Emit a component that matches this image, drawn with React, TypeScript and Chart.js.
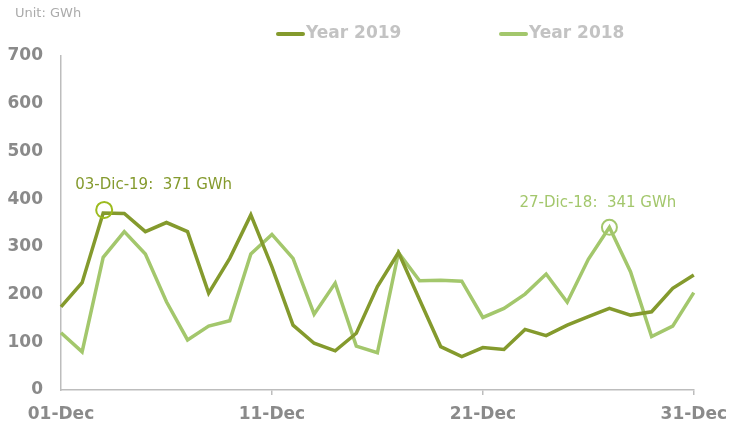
import { useEffect, useRef } from 'react';
import { Chart, registerables } from 'chart.js';

Chart.register(...registerables);

const categories = [
  '01-Dec', '02-Dec', '03-Dec', '04-Dec', '05-Dec', '06-Dec', '07-Dec', '08-Dec', '09-Dec', '10-Dec',
  '11-Dec', '12-Dec', '13-Dec', '14-Dec', '15-Dec', '16-Dec', '17-Dec', '18-Dec', '19-Dec', '20-Dec',
  '21-Dec', '22-Dec', '23-Dec', '24-Dec', '25-Dec', '26-Dec', '27-Dec', '28-Dec', '29-Dec', '30-Dec',
  '31-Dec',
];
const xTickLabels = ['01-Dec', '11-Dec', '21-Dec', '31-Dec'];

const year2019 = [174, 225, 371, 370, 332, 351, 332, 203, 276, 367, 258, 136, 98, 82, 119, 217, 288, 189, 91, 70, 89, 85, 127, 114, 136, 154, 171, 157, 164, 213, 241];
const year2018 = [120, 80, 278, 332, 285, 185, 105, 134, 145, 285, 326, 276, 159, 224, 92, 78, 288, 229, 230, 228, 152, 171, 201, 243, 184, 274, 341, 248, 112, 134, 204];

const seriesNames = ['Year 2019', 'Year 2018'];
const yMin = 0;
const yMax = 700;
const yStep = 100;
const unitLabel = 'Unit: GWh';

const C2019 = '#849a2d';
const C2018 = '#a3c76c';
const C2019_CIRCLE = '#9cbb1e';
const TICK_COLOR = '#8a8a8a';
const AXIS_COLOR = '#bdbdbd';

function peakIndex(arr: number[]) {
  let best = 0;
  arr.forEach((v, i) => { if (v > arr[best]) best = i; });
  return best;
}

const overlayPlugin = {
  id: 'overlay',
  afterDraw(chart: any) {
    const ctx = chart.ctx as CanvasRenderingContext2D;
    const xs = chart.scales.x;
    const ys = chart.scales.y;
    ctx.save();
    ctx.font = '13px "DejaVu Sans"';
    ctx.fillStyle = '#ababab';
    ctx.textBaseline = 'middle';
    ctx.textAlign = 'left';
    ctx.fillText(unitLabel, 15, 14);

    const legendItems = [
      { name: seriesNames[0], color: C2019, x: 276 },
      { name: seriesNames[1], color: C2018, x: 499 },
    ];
    legendItems.forEach((it) => {
      ctx.strokeStyle = it.color;
      ctx.lineWidth = 4;
      ctx.lineCap = 'round';
      ctx.beginPath();
      ctx.moveTo(it.x + 2, 34);
      ctx.lineTo(it.x + 27, 34);
      ctx.stroke();
      ctx.font = 'bold 17px "DejaVu Sans"';
      ctx.fillStyle = '#c3c3c3';
      ctx.textBaseline = 'middle';
      ctx.fillText(it.name, it.x + 30, 34);
    });

    const i19 = peakIndex(year2019);
    const i18 = peakIndex(year2018);
    const p19x = xs.getPixelForValue(i19);
    const p19y = ys.getPixelForValue(year2019[i19]);
    const p18x = xs.getPixelForValue(i18);
    const p18y = ys.getPixelForValue(year2018[i18]);

    ctx.lineWidth = 2;
    ctx.strokeStyle = C2019_CIRCLE;
    ctx.beginPath();
    ctx.arc(p19x + 1, p19y - 3, 8, 0, Math.PI * 2);
    ctx.stroke();
    ctx.strokeStyle = C2018;
    ctx.beginPath();
    ctx.arc(p18x, p18y, 7.5, 0, Math.PI * 2);
    ctx.stroke();

    ctx.font = '15px "DejaVu Sans"';
    ctx.textBaseline = 'middle';
    ctx.textAlign = 'left';
    ctx.fillStyle = C2019;
    ctx.fillText(`${categories[i19].slice(0, 2)}-Dic-19:  ${year2019[i19]} GWh`, p19x - 28, p19y - 28);
    ctx.fillStyle = C2018;
    ctx.fillText(`${categories[i18].slice(0, 2)}-Dic-18:  ${year2018[i18]} GWh`, p18x - 90, p18y - 24);
    ctx.restore();
  },
};

export default function App() {
  const ref = useRef<HTMLCanvasElement | null>(null);

  useEffect(() => {
    document.body.style.margin = '0';
    const canvas = ref.current;
    if (!canvas) return;
    const tickFont = { family: '"DejaVu Sans"', weight: 'bold' as const, size: 17 };
    const chart = new Chart(canvas, {
      type: 'line',
      data: {
        labels: categories,
        datasets: [
          {
            label: seriesNames[0],
            data: year2019,
            borderColor: C2019,
            backgroundColor: C2019,
            borderWidth: 3.5,
            pointRadius: 0,
            tension: 0,
          },
          {
            label: seriesNames[1],
            data: year2018,
            borderColor: C2018,
            backgroundColor: C2018,
            borderWidth: 3.5,
            pointRadius: 0,
            tension: 0,
          },
        ],
      },
      options: {
        responsive: false,
        animation: false,
        layout: { autoPadding: false, padding: { top: 56, left: 0, right: 35, bottom: 0 } },
        plugins: {
          legend: { display: false },
          tooltip: { enabled: false },
        },
        scales: {
          x: {
            type: 'category',
            offset: false,
            afterFit: (s: any) => { s.height = 33; },
            grid: {
              display: true,
              drawOnChartArea: false,
              drawTicks: true,
              tickLength: 5,
              lineWidth: 1.5,
              color: (c: any) => {
                const lbl = categories[c.index];
                return c.index > 0 && xTickLabels.includes(lbl) ? AXIS_COLOR : 'rgba(0,0,0,0)';
              },
            },
            border: { display: true, color: AXIS_COLOR, width: 1.5 },
            ticks: {
              autoSkip: false,
              maxRotation: 0,
              padding: 9,
              color: TICK_COLOR,
              font: tickFont,
              callback: (_v: any, i: number) => (xTickLabels.includes(categories[i]) ? categories[i] : ''),
            },
          },
          y: {
            min: yMin,
            max: yMax,
            afterFit: (s: any) => { s.width = 61; },
            grid: { display: false, drawTicks: false },
            border: { display: true, color: AXIS_COLOR, width: 1.5 },
            ticks: {
              stepSize: yStep,
              padding: 18,
              color: TICK_COLOR,
              font: tickFont,
            },
          },
        },
      },
      plugins: [overlayPlugin],
    });
    return () => chart.destroy();
  }, []);

  return (
    <div style={{ width: 736, height: 423 }}>
      <canvas ref={ref} width={736} height={423} style={{ display: 'block', width: 736, height: 423 }} />
    </div>
  );
}
